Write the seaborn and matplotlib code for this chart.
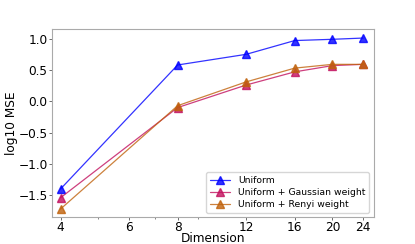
import numpy as np
import pandas as pd
import matplotlib
matplotlib.use("Agg")
import matplotlib.pyplot as plt
import seaborn as sns

# === Data ===
dims = [4, 8, 12, 16, 20, 24]
uniform = [-1.40, 0.58, 0.75, 0.97, 0.99, 1.01]
gauss_w = [-1.54, -0.10, 0.26, 0.47, 0.57, 0.59]
renyi_w = [-1.72, -0.07, 0.31, 0.53, 0.59, 0.59]
labels = ["Uniform", "Uniform + Gaussian weight", "Uniform + Renyi weight"]
colors = ["#0000ff", "#c2105e", "#c0620c"]
x_ticks = [4, 6, 8, 12, 16, 20, 24]

df = pd.DataFrame({"Dimension": dims * 3,
                   "log10 MSE": uniform + gauss_w + renyi_w,
                   "method": [labels[0]] * 6 + [labels[1]] * 6 + [labels[2]] * 6})

sns.set_style("white", {"text.color": "black", "axes.labelcolor": "black",
                        "xtick.color": "black", "ytick.color": "black"})
plt.rcParams['font.family'] = ['DejaVu Sans']

fig, ax = plt.subplots(figsize=(4.15, 2.44), dpi=100)
fig.subplots_adjust(left=0.125, right=0.9, top=0.88, bottom=0.11)

for lab, c in zip(labels, colors):
    sub = df[df["method"] == lab]
    ax.plot(sub["Dimension"], sub["log10 MSE"], color=c, alpha=0.8, linewidth=0.9,
            marker="^", markersize=5.5, markerfacecolor=c, markeredgecolor=c, label=lab)

ax.set_xscale("log")
ax.set_xticks(x_ticks)
ax.set_xticklabels([str(t) for t in x_ticks])
ax.xaxis.set_minor_locator(matplotlib.ticker.LogLocator(base=10, subs=np.arange(2, 10)))
ax.xaxis.set_minor_formatter(matplotlib.ticker.NullFormatter())
ax.set_xlim(3.8, 25.5)
ax.set_ylim(-1.85, 1.15)
ax.set_yticks([-1.5, -1.0, -0.5, 0.0, 0.5, 1.0])

ax.set_xlabel("Dimension", fontsize=8.7, labelpad=-1.5)
ax.set_ylabel("log10 MSE", fontsize=8.7, labelpad=0)
ax.tick_params(which="major", labelsize=8.7, length=2, width=0.6, pad=1,
               bottom=True, left=True, color="#555555", labelcolor="black")
ax.tick_params(which="minor", length=1.5, width=0.5, bottom=True, color="#555555")

for spine in ax.spines.values():
    spine.set_color("#aaaaaa")
    spine.set_linewidth(0.8)

ax.legend(loc="lower right", fontsize=6.7, frameon=True, framealpha=0.8,
          handlelength=2.2, borderpad=0.4, labelspacing=0.3)

fig.savefig("out.png", dpi=100)
